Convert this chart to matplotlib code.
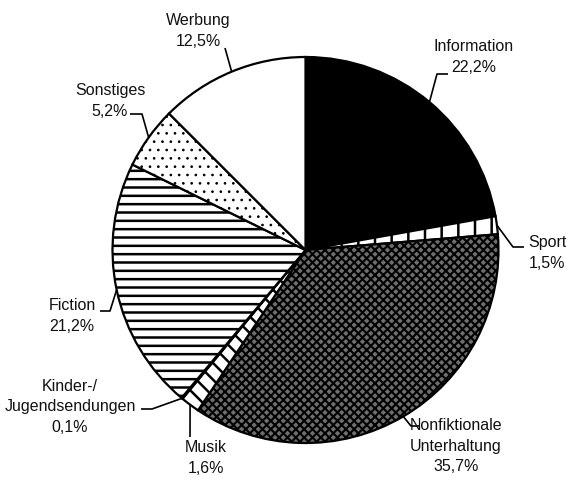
import numpy as np
import matplotlib
matplotlib.use("Agg")
from matplotlib import pyplot as plt

# data
labels = ["Information", "Sport", "Nonfiktionale\nUnterhaltung", "Musik",
          "Kinder-/\nJugendsendungen", "Fiction", "Sonstiges", "Werbung"]
shares = [22.2, 1.5, 35.7, 1.6, 0.1, 21.2, 5.2, 12.5]

facecols = ["black", "white", "#6e6e6e", "white", "white", "white", "white", "white"]
hatches = [None, "|", "xxxx", "\\\\", None, "--", "..", None]
hatch_lw = [1.8, 1.8, 1.5, 1.8, 1.8, 1.8, 0.7, 1.8]

W, H = 566, 479
cx, cy, R = 305.5, H - 250, 193

plt.rcParams["font.family"] = ["Liberation Sans", "DejaVu Sans"]
plt.rcParams["hatch.linewidth"] = 1.8

fig = plt.figure(figsize=(W / 100, H / 100), dpi=100)
ax = fig.add_axes([0, 0, 1, 1])

wedges, _ = ax.pie(shares, startangle=90, counterclock=False, center=(cx, cy),
                   radius=R, colors=facecols,
                   wedgeprops=dict(edgecolor="black", linewidth=1.6))
for w, h, lw in zip(wedges, hatches, hatch_lw):
    if h:
        w.set_hatch(h)
        try:
            w.set_hatch_linewidth(lw)
        except AttributeError:
            pass

ax.set_xlim(0, W)
ax.set_ylim(0, H)
ax.set_aspect("equal")
ax.axis("off")

# label layout in pixel coords (y from top): text centre, leader elbow, leader end
layout = [
    ((474, 57), (437, 74), (448, 74)),
    ((547, 253), (513, 247), (524, 247)),
    ((456, 446), (411, 426), (419, 426)),
    ((206, 458), (190, 437), None),
    ((70, 407), (152, 409), (141, 409)),
    ((72, 316), (110, 311), (100, 311)),
    ((110, 101), (142, 114), (130, 114)),
    ((198, 31), (225, 48), None),
]

cum = np.cumsum([0] + shares)
for i, (lab, val) in enumerate(zip(labels, shares)):
    mid = 90 - (cum[i] + val / 2) * 3.6
    ex = cx + R * np.cos(np.radians(mid))
    ey = cy + R * np.sin(np.radians(mid))
    (tx, ty), elbow, end = layout[i]
    xs = [ex, elbow[0]]
    ys = [ey, H - elbow[1]]
    if end is not None:
        xs.append(end[0])
        ys.append(H - end[1])
    ax.plot(xs, ys, color="black", lw=1.2, solid_capstyle="butt")
    txt = lab + "\n" + ("%.1f" % val).replace(".", ",") + "%"
    ax.text(tx, H - ty, txt, ha="center", va="center", fontsize=11.5,
            linespacing=1.45, color="#111111")

fig.savefig("out.png", dpi=100)
